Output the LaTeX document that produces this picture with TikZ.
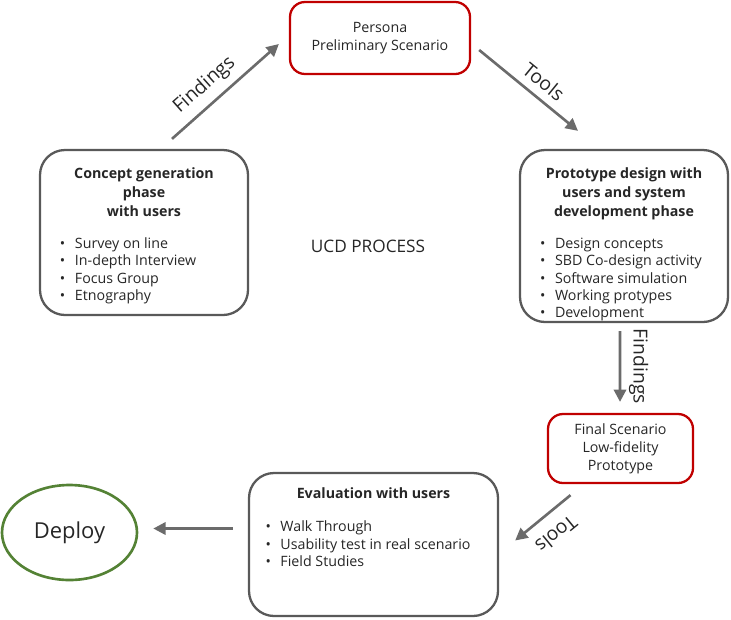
\documentclass[tikz,border=0pt]{standalone}
\usepackage{fontspec}
\setmainfont{Open Sans}
\usepackage{xcolor}
\definecolor{ucdred}{HTML}{C00000}
\definecolor{ucdgreen}{HTML}{548235}
\definecolor{ucdgray}{HTML}{595959}
\definecolor{ucdarrow}{HTML}{6B6B6B}
\definecolor{ucdtext}{HTML}{262626}
\usetikzlibrary{arrows.meta,shapes.geometric}

\newcommand{\blt}{\hspace*{0.4cm}\makebox[0.3cm][l]{\textbullet}}
\newcommand{\titlefont}{\fontsize{8.1}{10.8}\selectfont\bfseries}
\newcommand{\itemfont}{\fontsize{8.1}{9.8}\selectfont}

\begin{document}
\begin{tikzpicture}[
      phase/.style={draw=ucdgray, line width=1.3pt, rounded corners=0.5cm, inner sep=0pt, text=ucdtext},
      scen/.style={draw=ucdred, line width=1.3pt, rounded corners=0.3cm, align=center, text=ucdtext, font=\fontsize{8.1}{10.3}\selectfont},
      arr/.style={-{Triangle[length=7pt,width=7pt]}, line width=1.5pt, ucdarrow},
      lbl/.style={midway, sloped, above=1pt, allow upside down, text=ucdtext, font=\fontsize{11}{13}\selectfont}
    ]
    \useasboundingbox (0,0) rectangle (14.62,-12.38);
    \node[scen, minimum width=3.6cm, minimum height=1.44cm] (persona) at (7.6,-0.76) {Persona\\Preliminary Scenario};
    \node[phase] (concept) at (2.88,-4.65) {\begin{minipage}[t][3.3cm][t]{4.16cm}
      \vspace*{0.36cm}{\centering\titlefont Concept generation\\phase\\with users\par}
      \vspace{8.3pt}\itemfont
      \blt Survey on line\\ \blt In-depth Interview\\ \blt Focus Group\\ \blt Etnography
      \end{minipage}};
    \node[phase] (proto) at (12.48,-4.72) {\begin{minipage}[t][3.44cm][t]{4.16cm}
      \vspace*{0.36cm}{\centering\titlefont Prototype design with\\users and system\\development phase\par}
      \vspace{8.3pt}\itemfont
      \blt Design concepts\\ \blt SBD Co-design activity\\ \blt Software simulation\\ \blt Working protypes\\ \blt Development
      \end{minipage}};
    \node[scen, minimum width=2.9cm, minimum height=1.38cm] (final) at (12.41,-8.97) {Final Scenario\\Low-fidelity\\Prototype};
    \node[phase] (eval) at (7.47,-10.89) {\begin{minipage}[t][2.86cm][t]{4.98cm}
      \vspace*{0.3cm}{\centering\titlefont Evaluation with users\par}
      \vspace{9pt}\itemfont
      \hspace*{-0.07cm}\blt Walk Through\\ \hspace*{-0.07cm}\blt Usability test in real scenario\\ \hspace*{-0.07cm}\blt Field Studies
      \end{minipage}};
    \node[draw=ucdgreen, line width=1.5pt, ellipse, minimum width=2.7cm, minimum height=1.9cm, font=\fontsize{12.5}{14}\selectfont, text=ucdtext] (deploy) at (1.39,-10.65) {Deploy};
    \node[font=\fontsize{9.8}{12}\selectfont, text=ucdtext] (ucd) at (7.36,-4.92) {UCD PROCESS};
    % cycle arrows
    \draw[arr] ([xshift=0.56cm,yshift=0.2cm]concept.north) -- ([xshift=-0.2cm,yshift=-0.12cm]persona.west) node[lbl, pos=0.42] {Findings};
    \draw[arr] ([xshift=0.16cm,yshift=-0.24cm]persona.east) -- ([xshift=-0.92cm,yshift=0.36cm]proto.north) node[lbl, pos=0.55] {Tools};
    \draw[arr] ([xshift=-0.08cm,yshift=-0.16cm]proto.south) -- ([xshift=-0.01cm,yshift=0.22cm]final.north) node[lbl] {Findings};
    \draw[arr] ([xshift=-1.0cm,yshift=-0.22cm]final.south) -- ([xshift=0.32cm,yshift=0.08cm]eval.east) node[lbl, above=3pt] {Tools};
    \draw[arr] ([xshift=-0.3cm,yshift=0.32cm]eval.west) -- ([xshift=0.3cm,yshift=0.08cm]deploy.east);
  \end{tikzpicture}
\end{document}
